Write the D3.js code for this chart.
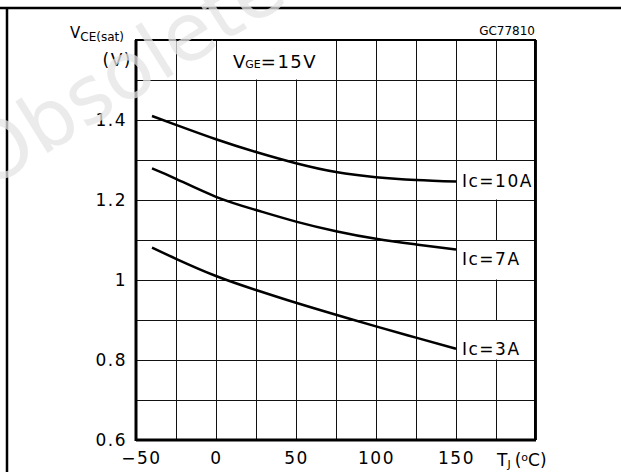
<!DOCTYPE html>
<html>
<head>
<meta charset="utf-8">
<script src="https://cdn.jsdelivr.net/npm/d3@7"></script>
<style>
  body { margin: 0; background: #fff; }
  svg { display: block; }
  text { font-family: "DejaVu Sans", sans-serif; fill: #000; }
</style>
</head>
<body>
<svg id="chart" width="621" height="472"></svg>
<script>
// junction temperature (°C)
const temps = [-40, -25, 0, 25, 50, 75, 100, 125, 150];
// VCE(sat) in volts, one array per collector current
const ic10 = [1.410, 1.388, 1.352, 1.320, 1.292, 1.270, 1.257, 1.250, 1.246];
const ic7 = [1.279, 1.253, 1.208, 1.175, 1.146, 1.122, 1.103, 1.089, 1.076];
const ic3 = [1.081, 1.053, 1.010, 0.975, 0.943, 0.913, 0.884, 0.856, 0.828];

const seriesNames = ["Ic=10A", "Ic=7A", "Ic=3A"];
const labelV = [1.248, 1.052, 0.829];           // where each label sits
const labelCell = [[1.2, 1.3], [1.0, 1.1], [0.8, 0.9]];

const xTicks = [-50, 0, 50, 100, 150];
const yTicks = [0.6, 0.8, 1, 1.2, 1.4];
const xGrid = d3.range(-50, 201, 25);
const yGrid = d3.range(6, 17).map(d => d / 10);

const svg = d3.select("#chart");

const x = d3.scaleLinear().domain([-50, 200]).range([136, 536]);
const y = d3.scaleLinear().domain([0.6, 1.6]).range([440, 40]);

// page frame
svg.append("line").attr("x1", 0).attr("x2", 621).attr("y1", 8).attr("y2", 8)
  .attr("stroke", "#000").attr("stroke-width", 2.5);
svg.append("line").attr("x1", 7).attr("x2", 7).attr("y1", 8).attr("y2", 472)
  .attr("stroke", "#000").attr("stroke-width", 2.5);

// grid
const grid = svg.append("g").attr("stroke", "#111").attr("stroke-width", 1)
  .attr("shape-rendering", "crispEdges");
grid.selectAll(".vx").data(xGrid).join("line")
  .attr("x1", d => x(d)).attr("x2", d => x(d))
  .attr("y1", y(1.6)).attr("y2", y(0.6));
grid.selectAll(".hy").data(yGrid).join("line")
  .attr("x1", x(-50)).attr("x2", x(200))
  .attr("y1", d => y(d)).attr("y2", d => y(d));

// white boxes behind the labels
svg.selectAll(".lbox").data(labelCell).join("rect")
  .attr("x", x(150) + 1).attr("width", x(200) - x(150) - 2)
  .attr("y", d => y(d[1]) + 1).attr("height", d => y(d[0]) - y(d[1]) - 1.5)
  .attr("fill", "#fff");
svg.append("rect")
  .attr("x", x(0) + 1).attr("width", x(75) - x(0) - 2)
  .attr("y", y(1.6) + 1).attr("height", y(1.5) - y(1.6) - 1.5)
  .attr("fill", "#fff");

// plot border
svg.append("rect")
  .attr("x", x(-50)).attr("y", y(1.6))
  .attr("width", x(200) - x(-50) - 1).attr("height", y(0.6) - y(1.6))
  .attr("fill", "none").attr("stroke", "#000").attr("stroke-width", 2);
svg.append("line").attr("x1", x(-50)).attr("x2", x(-50)).attr("y1", y(1.6)).attr("y2", y(0.6) + 1)
  .attr("stroke", "#000").attr("stroke-width", 3);
svg.append("line").attr("x1", x(-50)).attr("x2", x(200)).attr("y1", y(0.6)).attr("y2", y(0.6))
  .attr("stroke", "#000").attr("stroke-width", 3);

// curves
const line = d3.line()
  .x((d, i) => x(temps[i]))
  .y(d => y(d))
  .curve(d3.curveNatural);

svg.append("g").selectAll("path")
  .data([ic10, ic7, ic3])
  .join("path")
  .attr("d", line)
  .attr("fill", "none")
  .attr("stroke", "#000")
  .attr("stroke-width", 2.5);

// curve labels
svg.selectAll(".clabel").data(seriesNames).join("text")
  .attr("x", x(150) + 6)
  .attr("y", (d, i) => y(labelV[i]))
  .attr("dy", "0.36em")
  .attr("font-size", 17)
  .attr("letter-spacing", 1.5)
  .text(d => d);

// axes
const yAxis = svg.append("g")
  .attr("transform", `translate(${x(-50)},0)`)
  .call(d3.axisLeft(y).tickValues(yTicks).tickSize(0).tickPadding(9).tickFormat(d3.format("")));
const xAxis = svg.append("g")
  .attr("transform", `translate(0,${y(0.6)})`)
  .call(d3.axisBottom(x).tickValues(xTicks).tickSize(0).tickPadding(12));
[yAxis, xAxis].forEach(a => {
  a.select(".domain").remove();
  a.selectAll("text")
    .attr("font-family", "DejaVu Sans")
    .attr("font-size", 17)
    .attr("letter-spacing", 1.5)
    .attr("fill", "#000");
});
xAxis.selectAll("text").attr("dx", d => d < 0 ? 5 : 0);

// axis titles
const yt = svg.append("text").attr("x", 70).attr("y", 38).attr("font-size", 15);
yt.append("tspan").text("V");
yt.append("tspan").attr("font-size", 12).attr("dy", 3).text("CE(sat)");
svg.append("text").attr("x", 132).attr("y", 66).attr("text-anchor", "end")
  .attr("font-size", 17).attr("letter-spacing", 1.5).text("(V)");

const xt = svg.append("text").attr("x", 497).attr("y", 466).attr("font-size", 17);
xt.append("tspan").text("T");
xt.append("tspan").attr("font-size", 11).attr("dy", 2).text("J");
xt.append("tspan").attr("dy", -2).attr("dx", 4).text("(");
xt.append("tspan").attr("font-size", 11).attr("dy", -5).text("o");
xt.append("tspan").attr("dy", 5).text("C)");

const vge = svg.append("text").attr("x", 233).attr("y", 68).attr("font-size", 18);
vge.append("tspan").text("V");
vge.append("tspan").attr("font-size", 11).text("GE");
vge.append("tspan").attr("letter-spacing", 1.5).text("=15V");

svg.append("text").attr("x", 535).attr("y", 35).attr("text-anchor", "end")
  .attr("font-size", 12).text("GC77810");

// watermark, pale and see-through
svg.append("text")
  .attr("transform", "translate(-12,190) rotate(-32)")
  .attr("font-family", "DejaVu Sans")
  .attr("font-size", 80)
  .style("fill", "#e4e4e4")
  .style("fill-opacity", 0.75)
  .text("Obsolete");
</script>
</body>
</html>
